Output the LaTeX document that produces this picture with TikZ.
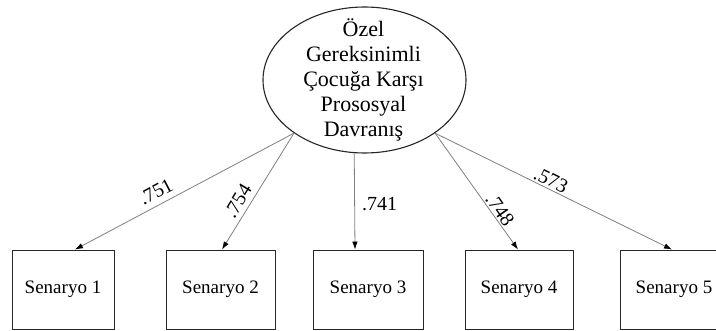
\documentclass[tikz,border=0pt]{standalone}
\usepackage{fontspec}
\setmainfont{Liberation Serif}
\usetikzlibrary{shapes.geometric,arrows.meta}
\begin{document}
\begin{tikzpicture}[x=1pt,y=-1pt,
  boxnode/.style={draw=black!85, line width=0.9pt, minimum height=79pt, inner sep=0pt,
     font=\fontsize{19}{22}\selectfont},
  lat/.style={draw=black!85, line width=1.1pt, ellipse, minimum width=203pt, minimum height=146pt, inner sep=0pt},
  conn/.style={draw=black!50, line width=0.8pt, -{Latex[length=8pt,width=5.5pt,black]}},
  lbl/.style={font=\fontsize{20}{22}\selectfont, inner sep=0pt}]
\clip (0,0) rectangle (716,331);
\fill[white] (0,0) rectangle (716,331);
\node[lat] (E) at (364.5,80) {};
\node[align=center, font=\fontsize{22}{25}\selectfont, inner sep=0pt] (Et) at (363.5,80)
  {Özel\\Gereksinimli\\Çocuğa Karşı\\Prososyal\\Davranış};
\node[boxnode, minimum width=102pt] (b1) at (63,289.5) {Senaryo 1};
\node[boxnode, minimum width=109pt] (b2) at (220.5,289.5) {Senaryo 2};
\node[boxnode, minimum width=110pt] (b3) at (368,289.5) {Senaryo 3};
\node[boxnode, minimum width=108pt] (b4) at (519,289.5) {Senaryo 4};
\node[boxnode, minimum width=108pt] (b5) at (674,289.5) {Senaryo 5};
\draw[conn] (E.217) -- ([xshift=12pt]b1.north);
\draw[conn] (E.217) -- ([xshift=1.5pt]b2.north);
\draw[conn] (E.262.6) -- ([xshift=-13pt]b3.north);
\draw[conn] (E.323) -- ([xshift=-1pt]b4.north);
\draw[conn] (E.323) -- ([xshift=-2pt]b5.north);
\node[lbl, rotate=27.9] (l1) at (156,192) {.751};
\node[lbl, rotate=58.7] (l2) at (238,201) {.754};
\node[lbl] (l3) at (379.5,204.5) {.741};
\node[lbl, rotate=-55] (l4) at (500,210) {.748};
\node[lbl, rotate=-26.3] (l5) at (551,180) {.573};
\end{tikzpicture}
\end{document}
